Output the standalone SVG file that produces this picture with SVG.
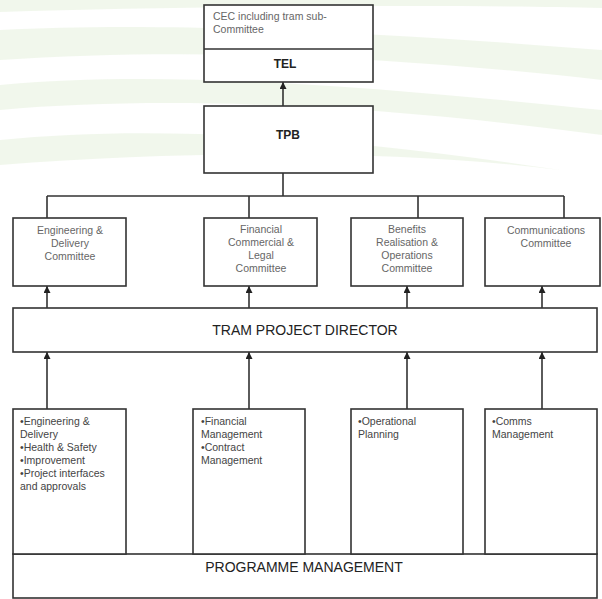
<svg xmlns="http://www.w3.org/2000/svg" width="602" height="599" viewBox="0 0 602 599">
<defs>
<marker id="ah" viewBox="0 0 10 10" refX="10" refY="5" markerWidth="7" markerHeight="7" markerUnits="userSpaceOnUse" orient="auto">
<path d="M0,0 L10,5 L0,10 z" fill="#222"/>
</marker>
<style>
.box{fill:#fff;stroke:#333;stroke-width:1.6}
.ln{fill:none;stroke:#333;stroke-width:1.6}
.arr{fill:none;stroke:#333;stroke-width:1.6;marker-end:url(#ah)}
.sm{font-family:"Liberation Sans",Arial,sans-serif;font-size:10.5px;fill:#666}
.lst{font-family:"Liberation Sans",Arial,sans-serif;font-size:10.5px;fill:#444}
.bd{font-family:"Liberation Sans",Arial,sans-serif;font-size:12px;font-weight:bold;fill:#222}
.big{font-family:"Liberation Sans",Arial,sans-serif;font-size:14px;fill:#222}
.sw{fill:#e6f0dc;opacity:0.55}
</style>
</defs>
<rect width="602" height="599" fill="#fff"/>
<g id="background">
<path class="sw" d="M0,0 H602 V8 C450,4 200,6 0,12 z"/>
<path class="sw" d="M0,30 C150,22 350,30 602,50 V80 C380,55 180,48 0,60 z"/>
<path class="sw" d="M0,85 C160,70 360,85 602,110 V135 C380,105 170,95 0,110 z"/>
<path class="sw" d="M0,140 C150,125 330,135 560,170 C400,150 200,150 0,165 z"/>
</g>
<g id="connectors">
<line class="arr" x1="283" y1="106" x2="283" y2="82"/>
<path class="ln" d="M283,173 V196 M47,196 H564 M47,196 V218 M249,196 V218 M418,196 V218 M564,196 V218"/>
<line class="arr" x1="47" y1="330" x2="47" y2="286"/>
<line class="arr" x1="249" y1="330" x2="249" y2="286"/>
<line class="arr" x1="407" y1="330" x2="407" y2="286"/>
<line class="arr" x1="542" y1="330" x2="542" y2="286"/>
<line class="arr" x1="47" y1="409" x2="47" y2="352"/>
<line class="arr" x1="249" y1="409" x2="249" y2="352"/>
<line class="arr" x1="407" y1="409" x2="407" y2="352"/>
<line class="arr" x1="542" y1="409" x2="542" y2="352"/>
</g>
<g id="tel">
<rect class="box" x="204" y="5" width="169" height="77"/>
<line class="ln" x1="204" y1="49" x2="373" y2="49"/>
<text class="sm" x="213" y="20">CEC including tram sub-</text>
<text class="sm" x="213" y="33">Committee</text>
<text class="bd" x="285" y="68" text-anchor="middle">TEL</text>
</g>
<g id="tpb">
<rect class="box" x="204" y="106" width="169" height="67"/>
<text class="bd" x="288" y="139" text-anchor="middle">TPB</text>
</g>
<g id="eng-committee">
<rect class="box" x="13" y="218" width="113" height="68"/>
<text class="sm" text-anchor="middle"><tspan x="70" y="234">Engineering &amp;</tspan><tspan x="70" y="247">Delivery</tspan><tspan x="70" y="260">Committee</tspan></text>
</g>
<g id="fin-committee">
<rect class="box" x="204" y="218" width="113" height="68"/>
<text class="sm" text-anchor="middle"><tspan x="261" y="233">Financial</tspan><tspan x="261" y="246">Commercial &amp;</tspan><tspan x="261" y="259">Legal</tspan><tspan x="261" y="272">Committee</tspan></text>
</g>
<g id="ben-committee">
<rect class="box" x="351" y="218" width="112" height="68"/>
<text class="sm" text-anchor="middle"><tspan x="407" y="233">Benefits</tspan><tspan x="407" y="246">Realisation &amp;</tspan><tspan x="407" y="259">Operations</tspan><tspan x="407" y="272">Committee</tspan></text>
</g>
<g id="comm-committee">
<rect class="box" x="485" y="218" width="115" height="68"/>
<text class="sm" text-anchor="middle"><tspan x="546" y="234">Communications</tspan><tspan x="546" y="247">Committee</tspan></text>
</g>
<g id="tpd">
<rect class="box" x="13" y="308" width="584" height="44"/>
<text class="big" x="305" y="335" text-anchor="middle">TRAM PROJECT DIRECTOR</text>
</g>
<g id="pm">
<rect class="box" x="13" y="554" width="584" height="44"/>
<text class="big" x="304" y="572" text-anchor="middle">PROGRAMME MANAGEMENT</text>
</g>
<g id="eng-list">
<rect class="box" x="13" y="409" width="113" height="145"/>
<text class="lst"><tspan x="20" y="425">•Engineering &amp;</tspan><tspan x="20" y="438">Delivery</tspan><tspan x="20" y="451">•Health &amp; Safety</tspan><tspan x="20" y="464">•Improvement</tspan><tspan x="20" y="477">•Project interfaces</tspan><tspan x="20" y="490">and approvals</tspan></text>
</g>
<g id="fin-list">
<rect class="box" x="193" y="409" width="112" height="145"/>
<text class="lst"><tspan x="201" y="425">•Financial</tspan><tspan x="201" y="438">Management</tspan><tspan x="201" y="451">•Contract</tspan><tspan x="201" y="464">Management</tspan></text>
</g>
<g id="ops-list">
<rect class="box" x="351" y="409" width="112" height="145"/>
<text class="lst"><tspan x="358" y="425">•Operational</tspan><tspan x="358" y="438">Planning</tspan></text>
</g>
<g id="comms-list">
<rect class="box" x="485" y="409" width="112" height="145"/>
<text class="lst"><tspan x="492" y="425">•Comms</tspan><tspan x="492" y="438">Management</tspan></text>
</g>
</svg>
